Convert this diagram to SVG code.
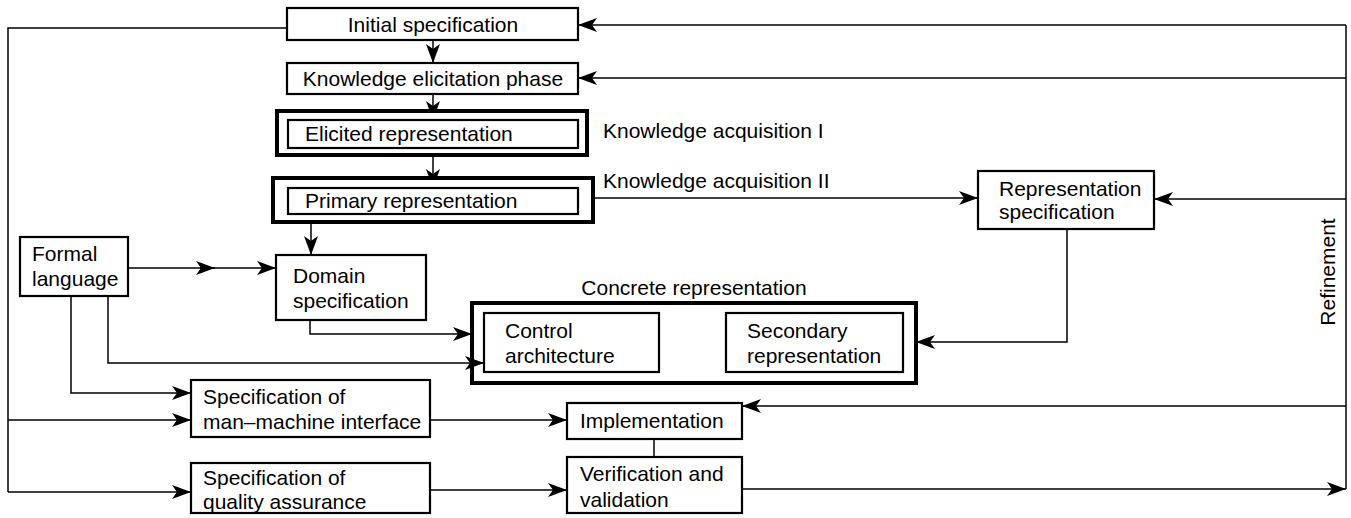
<svg xmlns="http://www.w3.org/2000/svg" width="1351" height="518" viewBox="0 0 1351 518">
<style>
  .box { fill: #fff; stroke: #000; stroke-width: 2.2; }
  .thick { fill: #fff; stroke: #000; stroke-width: 4; }
  .frame { fill: none; stroke: #000; stroke-width: 4; }
  .t { font-family: "Liberation Sans", Arial, sans-serif; font-size: 21px; fill: #000; }
  .c { text-anchor: middle; }
  .ln { fill: none; stroke: #000; stroke-width: 1.5; }
  .ar { marker-end: url(#ah); }
</style>
<defs>
  <marker id="ah" markerUnits="userSpaceOnUse" markerWidth="20" markerHeight="14" refX="19" refY="7" orient="auto" viewBox="0 0 20 14">
    <path d="M0,0 L19,7 L0,14 L5,7 z" fill="#000"/>
  </marker>
</defs>
<rect width="1351" height="518" fill="#fff"/>

<g id="connectors">
  <path class="ln" d="M287,28 H8 V492"/>
  <path class="ln ar" d="M8,492 H191"/>
  <path class="ln ar" d="M8,420 H191"/>
  <path class="ln ar" d="M742,489 H1346"/>
  <path class="ln" d="M1346,489 V25"/>
  <path class="ln ar" d="M1346,25 H578"/>
  <path class="ln ar" d="M1346,78 H578"/>
  <path class="ln ar" d="M1346,199 H1154"/>
  <path class="ln ar" d="M1346,406 H742"/>
  <path class="ln ar" d="M433,40 V63"/>
  <path class="ln ar" d="M433,94 V120"/>
  <path class="ln ar" d="M433,155 V188"/>
  <path class="ln ar" d="M311,222 V255"/>
  <path class="ln ar" d="M593,198 H978"/>
  <path class="ln ar" d="M128,268 H215"/>
  <path class="ln ar" d="M200,268 H276"/>
  <path class="ln ar" d="M310,320 V334 H472"/>
  <path class="ln ar" d="M108,296 V363 H484"/>
  <path class="ln ar" d="M71,296 V393 H191"/>
  <path class="ln ar" d="M430,420 H567"/>
  <path class="ln ar" d="M430,490 H567"/>
  <path class="ln" d="M654,439 V457"/>
  <path class="ln ar" d="M1067,229 V342 H916"/>
</g>

<g id="initial-spec">
  <rect class="box" x="287" y="8" width="291" height="32"/>
  <text class="t c" x="433" y="32">Initial specification</text>
</g>
<g id="knowledge-elicitation">
  <rect class="box" x="287" y="63" width="291" height="31"/>
  <text class="t c" x="433" y="86">Knowledge elicitation phase</text>
</g>
<g id="elicited-representation">
  <rect class="thick" x="277" y="111" width="310" height="44"/>
  <rect class="box" x="288" y="120" width="290" height="28"/>
  <text class="t" x="305" y="141">Elicited representation</text>
</g>
<g id="ka1">
  <text class="t" x="603" y="138">Knowledge acquisition I</text>
</g>
<g id="primary-representation">
  <rect class="thick" x="273" y="178" width="320" height="44"/>
  <rect class="box" x="288" y="188" width="290" height="26"/>
  <text class="t" x="305" y="208">Primary representation</text>
</g>
<g id="ka2">
  <text class="t" x="603" y="188">Knowledge acquisition II</text>
</g>
<g id="formal-language">
  <rect class="box" x="20" y="237" width="108" height="59"/>
  <text class="t" x="32" y="261">Formal</text>
  <text class="t" x="32" y="286">language</text>
</g>
<g id="domain-spec">
  <rect class="box" x="276" y="255" width="150" height="65"/>
  <text class="t" x="293" y="283">Domain</text>
  <text class="t" x="293" y="308">specification</text>
</g>
<g id="representation-spec">
  <rect class="box" x="978" y="171" width="176" height="58"/>
  <text class="t" x="999" y="196">Representation</text>
  <text class="t" x="999" y="219">specification</text>
</g>
<g id="concrete-representation">
  <text class="t c" x="694" y="295">Concrete representation</text>
  <rect class="frame" x="472" y="303" width="444" height="80"/>
</g>
<g id="control-architecture">
  <rect class="box" x="484" y="313" width="175" height="59"/>
  <text class="t" x="505" y="338">Control</text>
  <text class="t" x="505" y="363">architecture</text>
</g>
<g id="secondary-representation">
  <rect class="box" x="726" y="313" width="177" height="59"/>
  <text class="t" x="747" y="338">Secondary</text>
  <text class="t" x="747" y="363">representation</text>
</g>
<g id="refinement">
  <text class="t c" transform="translate(1335,272) rotate(-90)">Refinement</text>
</g>
<g id="mmi-spec">
  <rect class="box" x="191" y="380" width="239" height="57"/>
  <text class="t" x="203" y="404">Specification of</text>
  <text class="t" x="203" y="429">man–machine interface</text>
</g>
<g id="qa-spec">
  <rect class="box" x="191" y="463" width="239" height="50"/>
  <text class="t" x="203" y="485">Specification of</text>
  <text class="t" x="203" y="509">quality assurance</text>
</g>
<g id="implementation">
  <rect class="box" x="567" y="403" width="175" height="36"/>
  <text class="t" x="580" y="428">Implementation</text>
</g>
<g id="verification">
  <rect class="box" x="567" y="457" width="175" height="56"/>
  <text class="t" x="580" y="481">Verification and</text>
  <text class="t" x="580" y="507">validation</text>
</g>
</svg>
